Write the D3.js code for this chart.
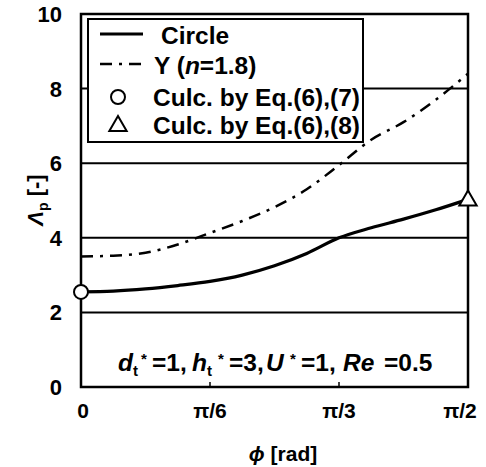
<!DOCTYPE html>
<html>
<head>
<meta charset="utf-8">
<script src="https://cdn.jsdelivr.net/npm/d3@7"></script>
<style>
  html, body { margin: 0; padding: 0; background: #fff; }
  svg { display: block; font-family: "Liberation Sans", Arial, sans-serif; font-weight: bold; }
</style>
</head>
<body>
<svg id="chart" width="486" height="467"></svg>
<script>
// Inclination angle, in units of pi/2 (0, 1/12, ..., 1)
const phiFrac = [0, 1/12, 2/12, 3/12, 4/12, 5/12, 6/12, 7/12, 8/12, 9/12, 10/12, 11/12, 1];
// Lambda_p for the circular cylinder
const circleVals = [2.55, 2.57, 2.63, 2.72, 2.83, 3.0, 3.25, 3.58, 4.0, 4.27, 4.5, 4.75, 5.03];
// Lambda_p for the Y-shaped section (n = 1.8)
const yVals = [3.5, 3.52, 3.6, 3.82, 4.13, 4.45, 4.82, 5.3, 5.95, 6.63, 7.1, 7.7, 8.4];
// Single values from Eq.(6),(7) at phi = 0 and Eq.(6),(8) at phi = pi/2
const eq67 = { phi: 0, value: 2.55 };
const eq68 = { phi: Math.PI / 2, value: 5.03 };

const yTicks = [0, 2, 4, 6, 8, 10];
const xTicks = [0, Math.PI / 6, Math.PI / 3, Math.PI / 2];
const xTickLabels = ["0", "\u03c0/6", "\u03c0/3", "\u03c0/2"];

const svg = d3.select("#chart");
const m = { left: 81, right: 468, top: 14, bottom: 387 };

const x = d3.scaleLinear().domain([0, Math.PI / 2]).range([m.left, m.right]);
const y = d3.scaleLinear().domain([0, 10]).range([m.bottom, m.top]);

const phi = phiFrac.map(f => f * Math.PI / 2);

// horizontal grid lines
svg.append("g").selectAll("line")
  .data(yTicks.filter(t => t > 0 && t < 10))
  .join("line")
  .attr("x1", m.left).attr("x2", m.right)
  .attr("y1", d => y(d)).attr("y2", d => y(d))
  .attr("stroke", "#000").attr("stroke-width", 2);

// inner ticks on the x axis
svg.append("g").selectAll("line")
  .data(xTicks.slice(1, 3))
  .join("line")
  .attr("x1", d => x(d)).attr("x2", d => x(d))
  .attr("y1", m.bottom).attr("y2", m.bottom - 5)
  .attr("stroke", "#000").attr("stroke-width", 1.5);

// frame
svg.append("rect")
  .attr("x", m.left).attr("y", m.top)
  .attr("width", m.right - m.left).attr("height", m.bottom - m.top)
  .attr("fill", "none").attr("stroke", "#000").attr("stroke-width", 2.5);

// y tick labels
svg.append("g").selectAll("text")
  .data(yTicks)
  .join("text")
  .attr("x", 62).attr("y", d => y(d))
  .attr("dy", "0.36em")
  .attr("text-anchor", "end")
  .attr("font-size", 22)
  .text(d => d);

// x tick labels
const xLabelShift = [2, 0, 0, -8];
svg.append("g").selectAll("text")
  .data(xTicks)
  .join("text")
  .attr("x", (d, i) => x(d) + xLabelShift[i]).attr("y", 410)
  .attr("dy", "0.36em")
  .attr("text-anchor", "middle")
  .attr("font-size", 21)
  .text((d, i) => xTickLabels[i]);

// axis titles
const xt = svg.append("text")
  .attr("x", 283).attr("y", 453).attr("dy", "0.36em")
  .attr("text-anchor", "middle").attr("font-size", 21);
xt.append("tspan").attr("font-style", "italic").text("\u03d5");
xt.append("tspan").text(" [rad]");

const yt = svg.append("text")
  .attr("transform", "translate(35,200) rotate(-90)")
  .attr("dy", "0.36em")
  .attr("text-anchor", "middle").attr("font-size", 22);
yt.append("tspan").attr("font-style", "italic").text("\u039b");
yt.append("tspan").attr("font-size", 14).attr("dy", 5).text("p");
yt.append("tspan").attr("dy", -5).text(" [-]");

// curves
const line = d3.line().x(d => x(d[0])).y(d => y(d[1])).curve(d3.curveMonotoneX);

svg.append("path")
  .datum(phi.map((p, i) => [p, yVals[i]]))
  .attr("d", line)
  .attr("fill", "none").attr("stroke", "#000").attr("stroke-width", 2.5)
  .attr("stroke-dasharray", "12 7 3 7");

svg.append("path")
  .datum(phi.map((p, i) => [p, circleVals[i]]))
  .attr("d", line)
  .attr("fill", "none").attr("stroke", "#000").attr("stroke-width", 3.2);

// markers
const tri = d3.symbol().type(d3.symbolTriangle).size(130);
svg.append("circle")
  .attr("cx", x(eq67.phi)).attr("cy", y(eq67.value)).attr("r", 7)
  .attr("fill", "#fff").attr("stroke", "#000").attr("stroke-width", 2);
svg.append("path")
  .attr("d", tri)
  .attr("transform", `translate(${x(eq68.phi)},${y(eq68.value) + 1})`)
  .attr("fill", "#fff").attr("stroke", "#000").attr("stroke-width", 2);

// legend
const lg = svg.append("g");
lg.append("rect")
  .attr("x", 88).attr("y", 19).attr("width", 275).attr("height", 123)
  .attr("fill", "#fff").attr("stroke", "#000").attr("stroke-width", 2);

lg.append("line").attr("x1", 100).attr("x2", 143).attr("y1", 34).attr("y2", 34)
  .attr("stroke", "#000").attr("stroke-width", 3.2);
lg.append("line").attr("x1", 100).attr("x2", 145).attr("y1", 64).attr("y2", 64)
  .attr("stroke", "#000").attr("stroke-width", 2.5).attr("stroke-dasharray", "12 7 3 7");
lg.append("circle").attr("cx", 118).attr("cy", 97).attr("r", 7)
  .attr("fill", "#fff").attr("stroke", "#000").attr("stroke-width", 2);
lg.append("path").attr("d", tri).attr("transform", "translate(118,126)")
  .attr("fill", "#fff").attr("stroke", "#000").attr("stroke-width", 2);

const lfs = 24.5;
lg.append("text").attr("x", 161).attr("y", 35).attr("dy", "0.36em").attr("font-size", lfs).text("Circle");
const yl = lg.append("text").attr("x", 154).attr("y", 65).attr("dy", "0.36em").attr("font-size", lfs);
yl.append("tspan").text("Y (");
yl.append("tspan").attr("font-style", "italic").text("n");
yl.append("tspan").text("=1.8)");
lg.append("text").attr("x", 153).attr("y", 97).attr("dy", "0.36em").attr("font-size", lfs).text("Culc. by Eq.(6),(7)");
lg.append("text").attr("x", 153).attr("y", 125).attr("dy", "0.36em").attr("font-size", lfs).text("Culc. by Eq.(6),(8)");

// condition annotation: [text, kind, x position]
const an = svg.append("text").attr("y", 371).attr("font-size", 24.5);
const parts = [
  ["d", "i", 118], ["t", "sub", null], ["*", "sup", 141], ["=1,", "", 152],
  ["h", "i", 192], ["t", "sub", null], ["*", "sup", 218], ["=3,", "", 229],
  ["U", "i", 266], ["*", "sup", 290], ["=1,", "", 301],
  ["Re", "i", 343], ["=0.5", "", 384]
];
parts.forEach(([t, k, px]) => {
  const ts = an.append("tspan").text(t);
  if (px !== null) ts.attr("x", px);
  if (k === "i") ts.attr("font-style", "italic");
  if (k === "sub") ts.attr("font-size", 15).attr("baseline-shift", "-30%");
  if (k === "sup") ts.attr("font-size", 15).attr("baseline-shift", "45%");
});
</script>
</body>
</html>
